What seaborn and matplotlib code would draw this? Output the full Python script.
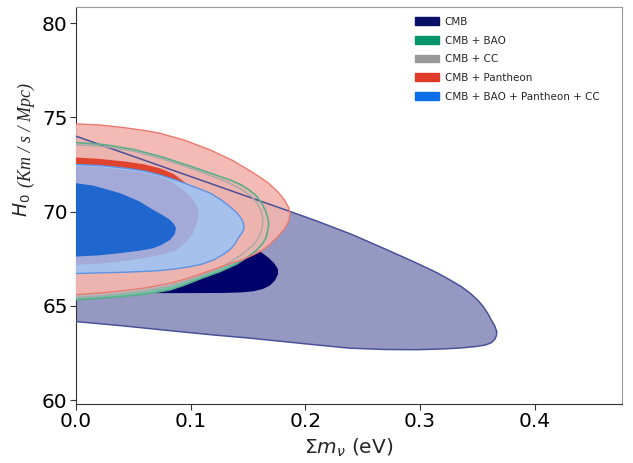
import numpy as np
import pandas as pd
import matplotlib
matplotlib.use("Agg")
import matplotlib.pyplot as plt
from matplotlib.patches import Patch
import seaborn as sns

# ---------------- data (contour boundaries) ----------------
# CMB 2-sigma
cmb2_x = [0, 0.05, 0.10, 0.15, 0.187, 0.21, 0.24, 0.268, 0.297, 0.315, 0.326, 0.336, 0.3435, 0.35,
          0.355, 0.359, 0.362, 0.365, 0.3668, 0.3665, 0.365, 0.362, 0.357, 0.349, 0.335, 0.32,
          0.297, 0.27, 0.239, 0.21, 0.181, 0.152, 0.12, 0.08, 0.04, 0.0]
cmb2_y = [74.0, 72.93, 71.86, 70.79, 70.0, 69.5, 68.8, 68.06, 67.27, 66.75, 66.38, 66.02, 65.68, 65.32,
          64.97, 64.6, 64.26, 63.95, 63.64, 63.42, 63.22, 63.05, 62.93, 62.85, 62.77, 62.72,
          62.68, 62.69, 62.76, 62.93, 63.11, 63.29, 63.46, 63.7, 63.95, 64.17]
# CMB 1-sigma (visible part)
cmb1_x = [0, 0.06, 0.10, 0.13, 0.145, 0.155, 0.163, 0.169, 0.1735, 0.1762, 0.176, 0.173, 0.168,
          0.162, 0.1575, 0.15, 0.14, 0.1255, 0.11, 0.095, 0.082, 0.06, 0.03, 0]
cmb1_y = [65.68, 65.68, 65.68, 65.69, 65.72, 65.78, 65.9, 66.08, 66.35, 66.7, 66.95, 67.25, 67.55,
          67.82, 68.0, 67.75, 67.35, 66.95, 66.6, 66.25, 66.0, 65.8, 65.7, 65.7]
# CMB + BAO 2-sigma
bao_x = [0, 0.025, 0.05, 0.075, 0.10, 0.12, 0.134, 0.143, 0.151, 0.157, 0.162, 0.1655, 0.1675,
         0.168, 0.167, 0.1655, 0.163, 0.1575, 0.151, 0.14, 0.1255, 0.11, 0.095, 0.082, 0.06,
         0.04, 0.02, 0]
bao_y = [73.66, 73.55, 73.3, 72.9, 72.4, 71.98, 71.68, 71.45, 71.15, 70.85, 70.45, 70.0, 69.6,
         69.3, 68.95, 68.6, 68.33, 67.97, 67.65, 67.22, 66.82, 66.48, 66.12, 65.85, 65.62,
         65.5, 65.4, 65.32]
# CMB + CC 2-sigma
cc_x = [0, 0.025, 0.05, 0.075, 0.10, 0.12, 0.134, 0.145, 0.153, 0.158, 0.1615, 0.163, 0.1625,
        0.161, 0.158, 0.153, 0.145, 0.135, 0.1255, 0.11, 0.095, 0.082, 0.06, 0.04, 0.02, 0]
cc_y = [73.55, 73.45, 73.2, 72.8, 72.3, 71.85, 71.5, 71.15, 70.8, 70.45, 70.0, 69.6, 69.2,
        68.85, 68.5, 68.15, 67.75, 67.35, 67.0, 66.62, 66.3, 66.05, 65.8, 65.65, 65.53, 65.45]
# CMB + Pantheon 2-sigma
pan2_x = [0, 0.02, 0.04, 0.06, 0.073, 0.095, 0.117, 0.137, 0.155, 0.167, 0.176, 0.182, 0.1855,
          0.1866, 0.1855, 0.182, 0.176, 0.17, 0.163, 0.155, 0.145, 0.135, 0.1255, 0.11, 0.095,
          0.082, 0.06, 0.04, 0.02, 0]
pan2_y = [74.65, 74.6, 74.47, 74.3, 74.16, 73.78, 73.27, 72.7, 72.04, 71.55, 71.05, 70.6, 70.2,
          69.9, 69.5, 69.1, 68.68, 68.32, 67.97, 67.72, 67.45, 67.25, 67.06, 66.72, 66.42,
          66.2, 65.95, 65.8, 65.68, 65.6]
# CMB + Pantheon 1-sigma
pan1_x = [0, 0.02, 0.044, 0.06, 0.073, 0.085, 0.095, 0.105, 0.115, 0.12, 0.117, 0.105, 0.085,
          0.06, 0.03, 0]
pan1_y = [72.87, 72.8, 72.65, 72.5, 72.3, 72.0, 71.55, 70.9, 70.2, 69.5, 68.7, 68.1, 67.7,
          67.45, 67.32, 67.28]
# CMB + BAO + Pantheon + CC 2-sigma
all2_x = [0, 0.02, 0.044, 0.06, 0.073, 0.085, 0.095, 0.107, 0.117, 0.126, 0.134, 0.14, 0.144,
          0.146, 0.1465, 0.145, 0.1415, 0.138, 0.134, 0.127, 0.12, 0.11, 0.0994, 0.085, 0.07,
          0.044, 0.02, 0]
all2_y = [72.5, 72.45, 72.3, 72.15, 71.95, 71.72, 71.5, 71.22, 70.98, 70.65, 70.27, 69.95, 69.65,
          69.39, 69.15, 68.9, 68.6, 68.25, 67.97, 67.68, 67.44, 67.22, 67.08, 66.95, 66.86,
          66.79, 66.75, 66.72]
# inner lavender band
mid_x = [0, 0.02, 0.044, 0.06, 0.073, 0.083, 0.0935, 0.1, 0.104, 0.1066, 0.1066, 0.105, 0.102,
         0.096, 0.0878, 0.08, 0.0674, 0.05, 0.03, 0.015, 0]
mid_y = [72.42, 72.37, 72.2, 72.05, 71.85, 71.6, 71.15, 70.8, 70.45, 70.09, 69.75, 69.3, 68.86,
         68.4, 67.97, 67.8, 67.62, 67.45, 67.3, 67.22, 67.18]
# CMB + BAO + Pantheon + CC 1-sigma
all1_x = [0, 0.015, 0.0384, 0.055, 0.0674, 0.076, 0.082, 0.0855, 0.0872, 0.086, 0.082, 0.075,
          0.0674, 0.055, 0.0384, 0.02, 0]
all1_y = [71.51, 71.38, 70.98, 70.55, 70.09, 69.8, 69.56, 69.33, 69.12, 68.8, 68.5, 68.25,
          68.06, 67.92, 67.8, 67.68, 67.62]

labels = ["CMB", "CMB + BAO", "CMB + CC", "CMB + Pantheon", "CMB + BAO + Pantheon + CC"]
legend_colors = ["#0a0f66", "#00966a", "#999999", "#e03a28", "#0a6ee8"]

x_ticks = [0.0, 0.1, 0.2, 0.3, 0.4]
y_ticks = [60, 65, 70, 75, 80]

# ---------------- style ----------------
sns.set_style("ticks")
plt.rcParams["font.family"] = ["DejaVu Sans"]

fig = plt.figure(figsize=(6.33, 4.63), dpi=100)
ax = fig.add_axes([76 / 633, (463 - 404) / 463, 546 / 633, 397 / 463])


def region(xs, ys, fill, alpha=1.0, edge=None, lw=1.0, z=1):
    df = pd.DataFrame({"x": xs, "y": ys})
    ax.fill(df["x"], df["y"], color=fill, alpha=alpha, lw=0, zorder=z)
    if edge is not None:
        sns.lineplot(data=df, x="x", y="y", sort=False, estimator=None, color=edge,
                     lw=lw, ax=ax, zorder=20 + z)


region(cmb2_x, cmb2_y, "#9599c1", edge="#4b5199", lw=1.1, z=1)
region(cmb1_x, cmb1_y, "#00006a", z=2)
region(bao_x, bao_y, "#74c2a8", edge="#5aae8a", lw=1.2, z=3)
region(cc_x, cc_y, "#b9b9b9", edge="#a8a8a8", lw=1.0, z=4)
region(pan2_x, pan2_y, "#f3b4ae", alpha=0.9, edge="#ea7a70", lw=1.0, z=5)
region(pan1_x, pan1_y, "#e0442f", z=6)
region(all2_x, all2_y, "#a5c1ec", edge="#5c93e3", lw=1.0, z=7)
region(mid_x, mid_y, "#a3aad8", z=8)
region(all1_x, all1_y, "#1f67cf", z=9)

ax.set_xlim(0, 0.476)
ax.set_ylim(59.8, 80.85)
ax.set_xticks(x_ticks)
ax.set_yticks(y_ticks)
ax.set_xticklabels([f"{v:.1f}" for v in x_ticks])
ax.set_yticklabels([str(v) for v in y_ticks])
ax.tick_params(axis="both", labelsize=14.5, length=4, width=0.8, colors="#333333",
               labelcolor="black", pad=2)

for side in ["left", "bottom"]:
    ax.spines[side].set_color("#333333")
for side in ["top", "right"]:
    ax.spines[side].set_visible(True)
    ax.spines[side].set_color("#999999")

ax.set_xlabel(r"$\Sigma m_{\nu}$ (eV)", fontsize=14.5, math_fontfamily="dejavusans", labelpad=4)
ax.set_ylabel("")

# y-axis label: H_0 plus units in a smaller serif italic, both rotated
fig.text(28 / 633, (463 - 217) / 463, r"$H_0$", fontsize=13.5, math_fontfamily="dejavusans",
         rotation=90, rotation_mode="anchor", ha="left", va="baseline")
fig.text(31 / 633, (463 - 187) / 463, "(Km / s / Mpc)", fontsize=13,
         family="Liberation Serif", style="italic",
         rotation=90, rotation_mode="anchor", ha="left", va="baseline")

handles = [Patch(facecolor=c, edgecolor=c) for c in legend_colors]
leg = ax.legend(handles, labels, loc="upper left", bbox_to_anchor=(0.621, 0.975),
                frameon=False, fontsize=7.5, handlelength=2.3, handleheight=0.75,
                handletextpad=0.55, labelspacing=0.83, borderpad=0, borderaxespad=0)

fig.savefig("out.png", dpi=100)
